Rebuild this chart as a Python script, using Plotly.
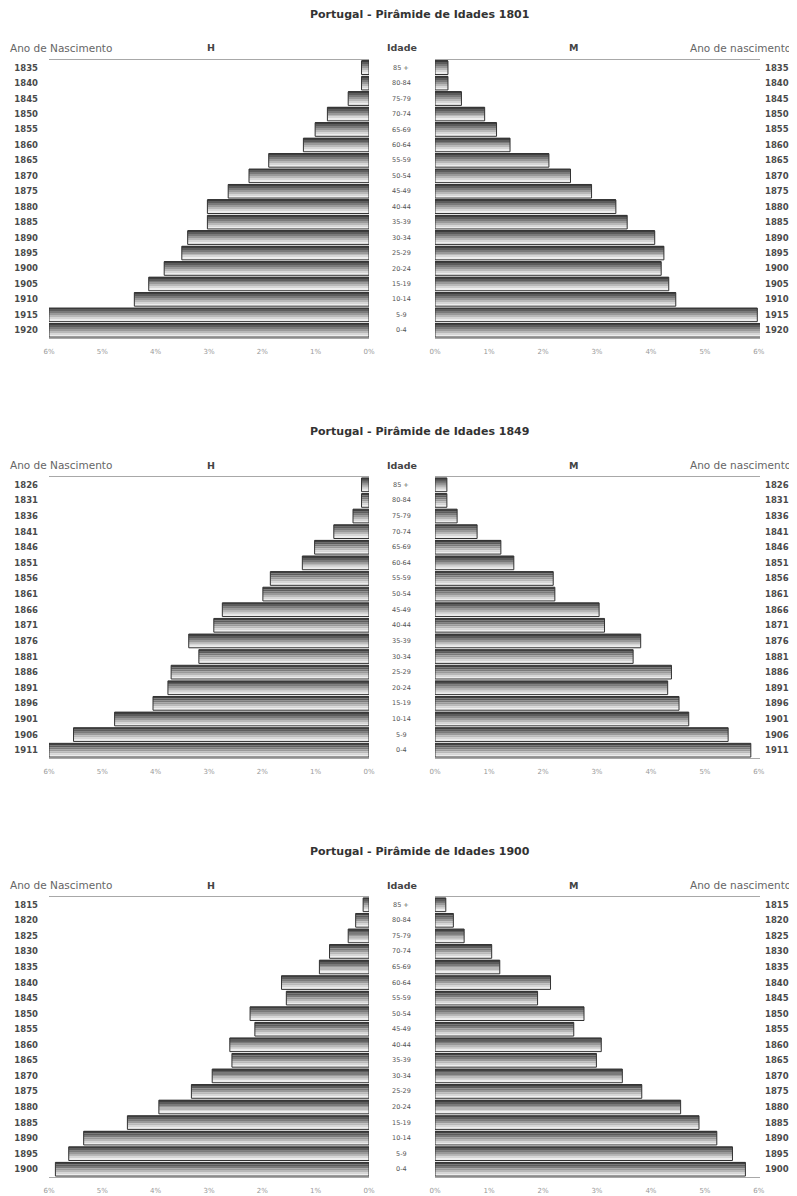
import plotly.graph_objects as go

ages = ["85 +", "80-84", "75-79", "70-74", "65-69", "60-64", "55-59", "50-54", "45-49",
        "40-44", "35-39", "30-34", "25-29", "20-24", "15-19", "10-14", "5-9", "0-4"]

titles = ["Portugal - Pirâmide de Idades 1801",
          "Portugal - Pirâmide de Idades 1849",
          "Portugal - Pirâmide de Idades 1900"]

years_1 = ["1835", "1840", "1845", "1850", "1855", "1860", "1865", "1870", "1875",
           "1880", "1885", "1890", "1895", "1900", "1905", "1910", "1915", "1920"]
years_2 = ["1826", "1831", "1836", "1841", "1846", "1851", "1856", "1861", "1866",
           "1871", "1876", "1881", "1886", "1891", "1896", "1901", "1906", "1911"]
years_3 = ["1815", "1820", "1825", "1830", "1835", "1840", "1845", "1850", "1855",
           "1860", "1865", "1870", "1875", "1880", "1885", "1890", "1895", "1900"]

h_1 = [0.14, 0.14, 0.39, 0.78, 1.01, 1.23, 1.88, 2.25, 2.64, 3.03, 3.03, 3.40, 3.51, 3.84, 4.13, 4.40, 6.0, 6.0]
m_1 = [0.24, 0.24, 0.49, 0.92, 1.14, 1.39, 2.11, 2.51, 2.90, 3.35, 3.56, 4.07, 4.24, 4.19, 4.33, 4.46, 5.97, 6.05]
h_2 = [0.14, 0.14, 0.30, 0.66, 1.02, 1.25, 1.85, 1.99, 2.75, 2.91, 3.38, 3.19, 3.71, 3.77, 4.05, 4.77, 5.54, 6.0]
m_2 = [0.22, 0.22, 0.41, 0.78, 1.22, 1.46, 2.19, 2.22, 3.04, 3.14, 3.81, 3.67, 4.38, 4.31, 4.52, 4.70, 5.43, 5.85]
h_3 = [0.11, 0.25, 0.39, 0.74, 0.93, 1.64, 1.55, 2.23, 2.14, 2.61, 2.57, 2.94, 3.33, 3.94, 4.53, 5.35, 5.63, 5.88]
m_3 = [0.20, 0.34, 0.54, 1.05, 1.20, 2.14, 1.90, 2.76, 2.57, 3.08, 2.99, 3.47, 3.83, 4.55, 4.89, 5.22, 5.51, 5.75]

tick_vals = [0, 1, 2, 3, 4, 5, 6]
tick_text = ["0%", "1%", "2%", "3%", "4%", "5%", "6%"]

charts = [(titles[0], years_1, h_1, m_1),
          (titles[1], years_2, h_2, m_2),
          (titles[2], years_3, h_3, m_3)]

# the page body has an 8px margin: the figure is drawn 8px right/down of the window corner
OFF = 8
W, H = 797 - OFF, 1196 - OFF
FONT = "DejaVu Sans"
band_colors = ["#404040", "#5c5c5c", "#7a7a7a", "#999999", "#b8b8b8", "#d6d6d6", "#ededed"]
BW = 0.88

# window-pixel layout of each pyramid (top of plot, bottom of plot)
panels = [(60, 338), (477, 758), (897, 1177)]
xl = (49, 369)
xr = (435, 760)

fig = go.Figure()
layout = dict(width=W, height=H, margin=dict(l=0, r=0, t=0, b=0, autoexpand=False),
              paper_bgcolor="white", plot_bgcolor="white", showlegend=False,
              barmode="overlay", font=dict(family=FONT, color="#444"))
annotations = []


def px(p):
    return (p - OFF) / W


def py(p):
    return 1 - (p - OFF) / H


for ci, (title, years, hv, mv) in enumerate(charts):
    top, bot = panels[ci]
    ia = 2 * ci + 1
    ib = 2 * ci + 2
    xa_l = "x" if ia == 1 else f"x{ia}"
    ya_l = "y" if ia == 1 else f"y{ia}"
    xa_r = f"x{ib}"
    ya_r = f"y{ib}"
    n = len(band_colors)
    w = BW / n
    for side, vals, xa, ya in (("H", hv, xa_l, ya_l), ("M", mv, xa_r, ya_r)):
        for k, col in enumerate(band_colors):
            fig.add_trace(go.Bar(x=vals, y=ages, orientation="h", xaxis=xa, yaxis=ya,
                                 width=w * 1.02, offset=-BW / 2 + k * w,
                                 marker=dict(color=col, line=dict(width=0)),
                                 hoverinfo="skip"))
        fig.add_trace(go.Bar(x=vals, y=ages, orientation="h", xaxis=xa, yaxis=ya,
                             width=BW, offset=-BW / 2,
                             marker=dict(color="rgba(0,0,0,0)", line=dict(width=1, color="#333333")),
                             name=side, hovertemplate=side + " %{y}: %{x:.2f}%<extra></extra>"))
    dom_y = [py(bot), py(top)]
    axcommon_x = dict(tickvals=tick_vals, ticktext=tick_text, showgrid=False, zeroline=False,
                      showline=True, mirror=True, linecolor="#a8a8a8", linewidth=1,
                      ticks="", tickfont=dict(size=7, color="#999999"), ticklabelstandoff=7,
                      fixedrange=True, automargin=False)
    axcommon_y = dict(categoryorder="array", categoryarray=ages, autorange=False, range=[17.5, -0.5],
                      showgrid=False, zeroline=False, showline=False, ticks="",
                      tickvals=ages, ticktext=["<b>" + y + "</b>" for y in years],
                      tickfont=dict(size=8.5, color="#4a4a4a", family="DejaVu Sans"),
                      fixedrange=True, automargin=False)
    key_xl = "xaxis" if ia == 1 else f"xaxis{ia}"
    key_yl = "yaxis" if ia == 1 else f"yaxis{ia}"
    layout[key_xl] = dict(axcommon_x, domain=[px(xl[0]), px(xl[1])], range=[6.0, 0], anchor=ya_l)
    layout[key_yl] = dict(axcommon_y, domain=dom_y, anchor=xa_l, side="left", ticklabelstandoff=10)
    layout[f"xaxis{ib}"] = dict(axcommon_x, domain=[px(xr[0]), px(xr[1])], range=[0, 6.02], anchor=ya_r)
    layout[f"yaxis{ib}"] = dict(axcommon_y, domain=dom_y, anchor=xa_r, side="right", ticklabelstandoff=4)

    # title and headers
    annotations.append(dict(text="<b>" + title + "</b>", xref="paper", yref="paper",
                            x=px(420), y=py(top - 46), xanchor="center", yanchor="middle",
                            showarrow=False, font=dict(size=11, color="#333")))
    hy = py(top - 12)
    annotations.append(dict(text="Ano de Nascimento", xref="paper", yref="paper", x=px(8), y=hy,
                            xanchor="left", yanchor="middle", showarrow=False,
                            font=dict(size=10.5, color="#666")))
    annotations.append(dict(text="<b>H</b>", xref="paper", yref="paper", x=px(211), y=hy,
                            xanchor="center", yanchor="middle", showarrow=False,
                            font=dict(size=9.5, color="#444")))
    annotations.append(dict(text="<b>Idade</b>", xref="paper", yref="paper", x=px(402), y=hy,
                            xanchor="center", yanchor="middle", showarrow=False,
                            font=dict(size=9.5, color="#444")))
    annotations.append(dict(text="<b>M</b>", xref="paper", yref="paper", x=px(573), y=hy,
                            xanchor="center", yanchor="middle", showarrow=False,
                            font=dict(size=9.5, color="#444")))
    annotations.append(dict(text="Ano de nascimento", xref="paper", yref="paper", x=px(793), y=hy,
                            xanchor="right", yanchor="middle", showarrow=False,
                            font=dict(size=10.5, color="#666")))
    # age labels in the centre column
    for a in ages:
        annotations.append(dict(text=a, xref="paper", yref=ya_l, x=px(401), y=a,
                                xanchor="center", yanchor="middle", showarrow=False,
                                font=dict(size=6.5, color="#555")))

layout["annotations"] = annotations
fig.update_layout(**layout)
fig.write_html("out.html")
